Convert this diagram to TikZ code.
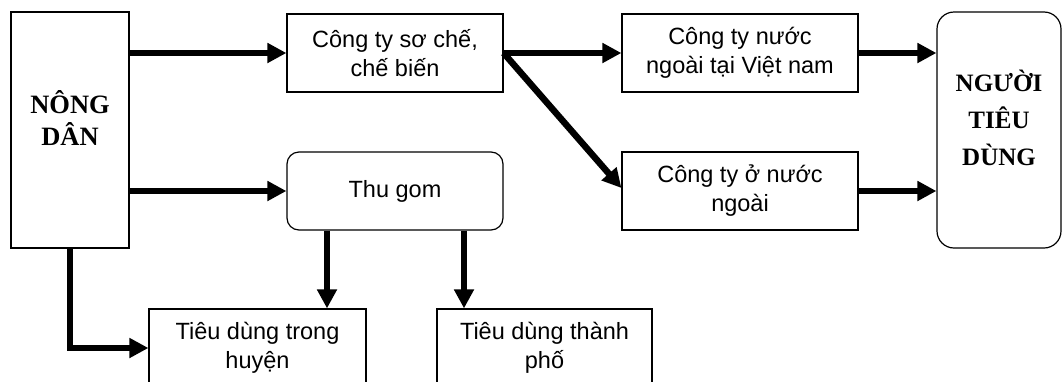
\documentclass[tikz,border=0pt]{standalone}
\usepackage{fontspec}
\setmainfont{Liberation Sans}
\newfontfamily\serifbold{Liberation Serif}
\usetikzlibrary{arrows.meta}

\tikzset{
    box/.style={draw, line width=1.2pt, minimum height=78pt, inner sep=0pt, align=center,
        font=\fontsize{23.5}{29}\selectfont},
    roundbox/.style={box, rounded corners=12pt},
    bigbox/.style={draw, line width=1.2pt, minimum height=236pt, inner sep=0pt},
    bigtext/.style={align=center, font=\serifbold\bfseries\fontsize{26.5}{32}\selectfont},
    flow/.style={line width=6.5pt, -{Triangle[length=19pt,width=19pt]}},
}

\begin{document}
\begin{tikzpicture}[x=1pt, y=-1pt]
        \useasboundingbox (0,0) rectangle (1062,381);

        % left and right ends
        \node[bigbox, minimum width=118pt] (nong) at (70,130) {};
        \node[bigtext] (nongtxt) at (70,118) {NÔNG\\DÂN};
        \node[bigbox, minimum width=124pt, rounded corners=17pt] (nguoi) at (999,130) {};
        \node[bigtext, font=\serifbold\bfseries\fontsize{25}{37}\selectfont] (nguoitxt) at (999,118) {NGƯỜI\\TIÊU\\DÙNG};

        % middle boxes
        \node[box, minimum width=216pt] (soche) at (395,53) {Công ty sơ chế,\\chế biến};
        \node[roundbox, minimum width=216pt] (thugom) at (395,191) {Thu gom};
        \node[box, minimum width=236pt] (nnvn) at (740,53) {Công ty nước\\ngoài tại Việt nam};
        \node[box, minimum width=236pt] (nnngoai) at (740,191) {Công ty ở nước\\ngoài};

        % bottom boxes
        \node[box, minimum width=217pt] (huyen) at (257.5,348) {Tiêu dùng trong\\huyện};
        \node[box, minimum width=215pt] (thanhpho) at (544.5,348) {Tiêu dùng thành\\phố};

        % flows
        \draw[flow] (nong.east |- soche.west) -- (soche.west);
        \draw[flow] (nong.east |- thugom.west) -- (thugom.west);
        \draw[flow] (nong.south) |- (huyen.west);
        \draw[flow] ([xshift=-68pt]thugom.south) -- ([xshift=-68pt]thugom.south |- huyen.north);
        \draw[flow] ([xshift=69pt]thugom.south) -- ([xshift=69pt]thugom.south |- thanhpho.north);
        \draw[flow] (soche.east) -- (nnvn.west);
        \draw[flow] (soche.east) -- ([yshift=3pt]nnngoai.west);
        \draw[flow] (nnvn.east) -- (nnvn.east -| nguoi.west);
        \draw[flow] (nnngoai.east) -- (nnngoai.east -| nguoi.west);
    \end{tikzpicture}
\end{document}
